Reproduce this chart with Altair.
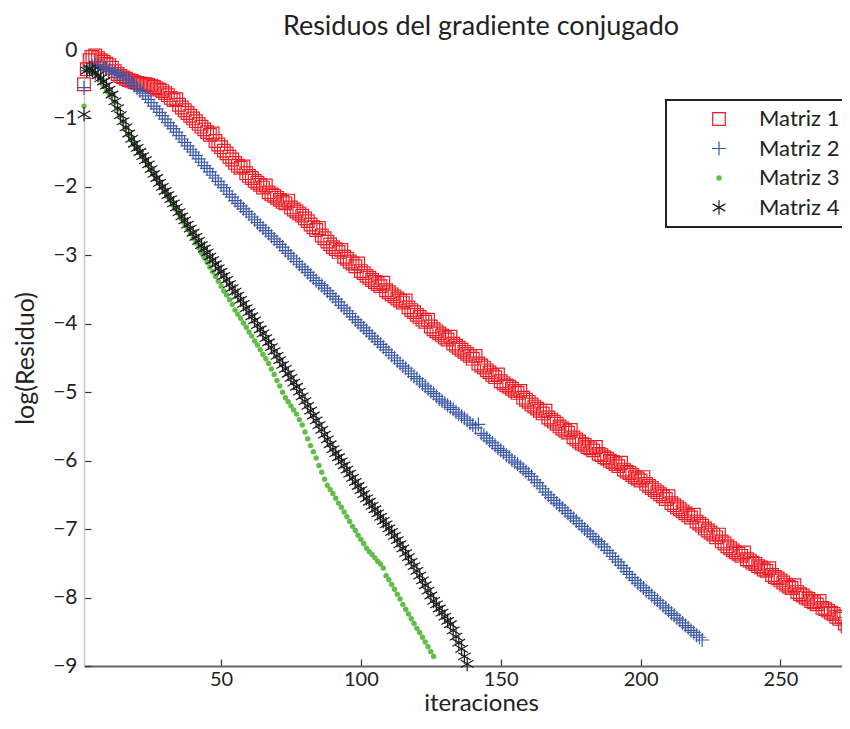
import altair as alt
import pandas as pd

series_names = ["Matriz 1", "Matriz 2", "Matriz 3", "Matriz 4"]
x_ticks = [50, 100, 150, 200, 250]
y_ticks = [-9, -8, -7, -6, -5, -4, -3, -2, -1, 0]

matriz1 = [
    -0.50, -0.28, -0.15, -0.10, -0.08, -0.12, -0.15, -0.17, -0.20, -0.22,
    -0.26, -0.31, -0.35, -0.38, -0.40, -0.42, -0.44, -0.45, -0.47, -0.48,
    -0.49, -0.50, -0.50, -0.51, -0.52, -0.54, -0.56, -0.58, -0.60, -0.63,
    -0.66, -0.70, -0.73, -0.72, -0.80, -0.84, -0.88, -0.92, -0.96, -1.00,
    -1.04, -1.08, -1.12, -1.16, -1.20, -1.24, -1.22, -1.33, -1.38, -1.42,
    -1.47, -1.51, -1.56, -1.60, -1.65, -1.69, -1.72, -1.70, -1.80, -1.84,
    -1.87, -1.91, -1.94, -1.97, -2.01, -1.98, -2.08, -2.11, -2.13, -2.16,
    -2.19, -2.22, -2.24, -2.20, -2.30, -2.33, -2.36, -2.39, -2.42, -2.46,
    -2.50, -2.55, -2.59, -2.63, -2.60, -2.71, -2.75, -2.80, -2.84, -2.88,
    -2.91, -2.95, -2.92, -3.02, -3.05, -3.09, -3.12, -3.16, -3.12, -3.23,
    -3.26, -3.30, -3.33, -3.36, -3.39, -3.42, -3.45, -3.40, -3.51, -3.54,
    -3.57, -3.60, -3.63, -3.66, -3.69, -3.66, -3.76, -3.80, -3.83, -3.87,
    -3.90, -3.94, -3.97, -3.94, -4.04, -4.08, -4.11, -4.14, -4.17, -4.20,
    -4.23, -4.19, -4.29, -4.32, -4.35, -4.38, -4.41, -4.44, -4.47, -4.51,
    -4.47, -4.58, -4.61, -4.64, -4.68, -4.71, -4.75, -4.78, -4.74, -4.84,
    -4.87, -4.90, -4.92, -4.95, -4.98, -5.01, -4.98, -5.08, -5.11, -5.14,
    -5.18, -5.21, -5.24, -5.27, -5.31, -5.27, -5.37, -5.40, -5.43, -5.46,
    -5.50, -5.53, -5.56, -5.59, -5.55, -5.66, -5.69, -5.72, -5.75, -5.77,
    -5.80, -5.82, -5.85, -5.80, -5.90, -5.92, -5.95, -5.97, -6.00, -6.02,
    -6.05, -6.08, -6.03, -6.13, -6.16, -6.18, -6.21, -6.24, -6.26, -6.29,
    -6.24, -6.34, -6.37, -6.40, -6.43, -6.46, -6.49, -6.52, -6.56, -6.52,
    -6.62, -6.65, -6.68, -6.71, -6.74, -6.77, -6.80, -6.83, -6.79, -6.89,
    -6.92, -6.95, -6.99, -7.02, -7.05, -7.08, -7.12, -7.08, -7.18, -7.21,
    -7.25, -7.28, -7.31, -7.34, -7.36, -7.39, -7.34, -7.44, -7.46, -7.49,
    -7.51, -7.54, -7.56, -7.59, -7.61, -7.57, -7.67, -7.70, -7.72, -7.75,
    -7.78, -7.81, -7.84, -7.86, -7.82, -7.92, -7.95, -7.97, -8.00, -8.02,
    -8.05, -8.07, -8.10, -8.05, -8.15, -8.17, -8.19, -8.22, -8.24, -8.28,
    -8.31, -8.28, -8.38, -8.42, -8.45,
]

matriz2 = [
    -0.55, -0.30, -0.26, -0.24, -0.22, -0.23, -0.25, -0.26, -0.27, -0.29,
    -0.31, -0.33, -0.35, -0.37, -0.39, -0.42, -0.44, -0.48, -0.52, -0.56,
    -0.60, -0.63, -0.67, -0.72, -0.77, -0.82, -0.86, -0.91, -0.96, -1.01,
    -1.06, -1.11, -1.15, -1.20, -1.25, -1.30, -1.35, -1.40, -1.45, -1.49,
    -1.54, -1.59, -1.64, -1.69, -1.73, -1.78, -1.83, -1.87, -1.92, -1.97,
    -2.01, -2.06, -2.11, -2.15, -2.20, -2.24, -2.28, -2.32, -2.36, -2.40,
    -2.44, -2.48, -2.52, -2.56, -2.60, -2.64, -2.68, -2.72, -2.76, -2.80,
    -2.84, -2.88, -2.93, -2.97, -3.01, -3.05, -3.09, -3.13, -3.17, -3.21,
    -3.25, -3.29, -3.33, -3.37, -3.41, -3.44, -3.48, -3.52, -3.56, -3.60,
    -3.64, -3.68, -3.73, -3.77, -3.81, -3.85, -3.90, -3.94, -3.98, -4.02,
    -4.06, -4.10, -4.14, -4.18, -4.22, -4.26, -4.30, -4.34, -4.38, -4.42,
    -4.46, -4.50, -4.54, -4.58, -4.62, -4.65, -4.69, -4.73, -4.77, -4.80,
    -4.84, -4.88, -4.91, -4.95, -4.99, -5.02, -5.06, -5.10, -5.13, -5.16,
    -5.19, -5.22, -5.25, -5.29, -5.32, -5.35, -5.38, -5.41, -5.45, -5.48,
    -5.52, -5.47, -5.60, -5.63, -5.67, -5.71, -5.74, -5.78, -5.82, -5.85,
    -5.88, -5.92, -5.95, -5.99, -6.02, -6.05, -6.09, -6.12, -6.16, -6.19,
    -6.23, -6.28, -6.32, -6.37, -6.41, -6.46, -6.50, -6.54, -6.58, -6.62,
    -6.65, -6.69, -6.73, -6.77, -6.81, -6.84, -6.88, -6.92, -6.96, -7.00,
    -7.03, -7.07, -7.11, -7.15, -7.18, -7.22, -7.26, -7.31, -7.35, -7.40,
    -7.44, -7.48, -7.53, -7.57, -7.62, -7.66, -7.71, -7.75, -7.79, -7.82,
    -7.86, -7.90, -7.93, -7.97, -8.01, -8.04, -8.08, -8.12, -8.15, -8.19,
    -8.23, -8.26, -8.30, -8.33, -8.37, -8.41, -8.44, -8.48, -8.51, -8.55,
    -8.58, -8.62,
]

matriz3 = [
    -0.82, -0.30, -0.27, -0.30, -0.34, -0.38, -0.43, -0.53, -0.60, -0.64,
    -0.66, -0.76, -0.86, -0.96, -1.05, -1.14, -1.23, -1.31, -1.38, -1.44,
    -1.50, -1.56, -1.62, -1.68, -1.75, -1.82, -1.88, -1.95, -2.01, -2.07,
    -2.14, -2.20, -2.27, -2.33, -2.40, -2.47, -2.54, -2.61, -2.68, -2.75,
    -2.82, -2.89, -2.96, -3.03, -3.10, -3.17, -3.24, -3.31, -3.38, -3.45,
    -3.52, -3.58, -3.65, -3.72, -3.80, -3.86, -3.92, -3.99, -4.05, -4.12,
    -4.18, -4.25, -4.31, -4.38, -4.45, -4.51, -4.58, -4.66, -4.74, -4.83,
    -4.91, -5.00, -5.08, -5.14, -5.20, -5.26, -5.32, -5.40, -5.48, -5.58,
    -5.68, -5.78, -5.87, -5.96, -6.07, -6.17, -6.27, -6.36, -6.42, -6.48,
    -6.55, -6.62, -6.68, -6.75, -6.82, -6.89, -6.96, -7.02, -7.09, -7.15,
    -7.21, -7.28, -7.33, -7.37, -7.42, -7.47, -7.51, -7.57, -7.68, -7.74,
    -7.81, -7.88, -7.95, -8.02, -8.10, -8.17, -8.24, -8.31, -8.38, -8.45,
    -8.51, -8.58, -8.65, -8.72, -8.79, -8.86,
]

matriz4 = [
    -0.94, -0.30, -0.27, -0.30, -0.33, -0.37, -0.41, -0.46, -0.52, -0.58,
    -0.65, -0.75, -0.85, -0.95, -1.04, -1.13, -1.22, -1.30, -1.37, -1.43,
    -1.49, -1.55, -1.61, -1.67, -1.74, -1.81, -1.87, -1.94, -2.00, -2.06,
    -2.12, -2.18, -2.24, -2.30, -2.37, -2.43, -2.49, -2.55, -2.61, -2.67,
    -2.73, -2.79, -2.85, -2.90, -2.96, -3.02, -3.07, -3.13, -3.19, -3.24,
    -3.30, -3.36, -3.42, -3.48, -3.53, -3.59, -3.65, -3.71, -3.77, -3.83,
    -3.89, -3.95, -4.02, -4.08, -4.14, -4.21, -4.27, -4.34, -4.40, -4.47,
    -4.53, -4.60, -4.66, -4.73, -4.79, -4.86, -4.92, -4.99, -5.06, -5.13,
    -5.20, -5.27, -5.34, -5.41, -5.48, -5.55, -5.62, -5.69, -5.76, -5.83,
    -5.89, -5.95, -6.01, -6.07, -6.13, -6.19, -6.25, -6.31, -6.37, -6.43,
    -6.49, -6.55, -6.60, -6.66, -6.71, -6.77, -6.82, -6.88, -6.93, -6.99,
    -7.04, -7.10, -7.16, -7.22, -7.28, -7.35, -7.41, -7.48, -7.54, -7.61,
    -7.68, -7.75, -7.82, -7.90, -7.97, -8.05, -8.10, -8.16, -8.22, -8.28,
    -8.34, -8.39, -8.48, -8.57, -8.66, -8.75, -8.86, -8.97,
]

colors = ["#ee1c25", "#3b58a8", "#62bd48", "#1c1c1c"]
PLUS = "M-1,0L1,0M0,-1L0,1"
STAR = "M0,-1L0,1M-0.87,-0.5L0.87,0.5M-0.87,0.5L0.87,-0.5"
shapes = ["square", PLUS, "circle", STAR]
sizes = [160, 196, 18, 210]
fills = ["transparent", "transparent", "#62bd48", "transparent"]

rows = []
for name, vals in zip(series_names, [matriz1, matriz2, matriz3, matriz4]):
    for i, v in enumerate(vals, start=1):
        rows.append({"iter": i, "res": v, "serie": name})
df = pd.DataFrame(rows)

FONT = "Lato"
TXT = "#222222"
W, H = 758, 616
PAD_L, PAD_T, PAD_B = 76, 42, 50

xscale = alt.Scale(domain=[1, 272], nice=False, zero=False)
yscale = alt.Scale(domain=[-9, 0], nice=False, zero=False)

points = alt.Chart(df).mark_point(filled=False, opacity=1, strokeWidth=1.2).encode(
    x=alt.X("iter:Q", scale=xscale, axis=alt.Axis(
        values=x_ticks, orient="bottom", title="iteraciones", grid=False,
        ticks=False, tickSize=0, domainColor="#666666", domainWidth=2,
        labelFont=FONT, labelFontSize=20, labelColor=TXT, labelPadding=3,
        labelFlush=False, labelOverlap=False,
        titleFont=FONT, titleFontSize=24, titleFontWeight="normal", titleColor=TXT,
        titleX=397, titleY=44.8, titleBaseline="alphabetic")),
    y=alt.Y("res:Q", scale=yscale, axis=alt.Axis(
        values=y_ticks, orient="left", title="log(Residuo)", grid=False,
        ticks=False, tickSize=0, domainColor="#c8c8c8", domainWidth=1.5,
        labelFont=FONT, labelFontSize=21, labelColor=TXT, labelPadding=7,
        labelFlush=False, labelOverlap=False,
        titleFont=FONT, titleFontSize=25, titleFontWeight="normal", titleColor=TXT,
        titleX=-51, titleY=H / 2, titleBaseline="alphabetic", titleAlign="center")),
    color=alt.Color("serie:N", scale=alt.Scale(domain=series_names, range=colors),
                    legend=alt.Legend(title=None, orient="none", legendX=582, legendY=50,
                                      labelFont=FONT, labelFontSize=22, labelColor=TXT,
                                      padding=8, rowPadding=7.5, symbolOffset=34,
                                      labelOffset=29, symbolStrokeWidth=1.2,
                                      strokeColor="#222222", fillColor="white")),
    shape=alt.Shape("serie:N", scale=alt.Scale(domain=series_names, range=shapes)),
    size=alt.Size("serie:N", scale=alt.Scale(type="ordinal", domain=series_names, range=sizes)),
    fill=alt.Fill("serie:N", scale=alt.Scale(domain=series_names, range=fills)),
)

ticks_layer = alt.Chart(df).mark_point(opacity=0).encode(
    x=alt.X("iter:Q", scale=xscale, axis=alt.Axis(
        values=x_ticks, orient="top", offset=-H, title=None, labels=False,
        domain=False, grid=False, ticks=True, tickSize=7, tickColor="#333333",
        tickWidth=1.2)),
    y=alt.Y("res:Q", scale=yscale, axis=alt.Axis(
        values=y_ticks, orient="right", offset=-W, title=None, labels=False,
        domain=False, grid=False, ticks=True, tickSize=7, tickColor="#333333",
        tickWidth=1.2)),
)

chart = alt.layer(ticks_layer, points).properties(
    width=W, height=H,
    title=alt.TitleParams(text="Residuos del gradiente conjugado", font=FONT, fontSize=27,
                          fontWeight="normal", color=TXT, anchor="middle", frame="group",
                          dx=18, dy=30, baseline="alphabetic", offset=7),
    autosize=alt.AutoSizeParams(type="none"),
    padding={"left": PAD_L, "top": PAD_T, "right": 0, "bottom": PAD_B},
).configure_view(stroke=None).configure_legend(strokeWidth=2)

chart.save("out.html", embed_options={"renderer": "svg", "actions": False})
